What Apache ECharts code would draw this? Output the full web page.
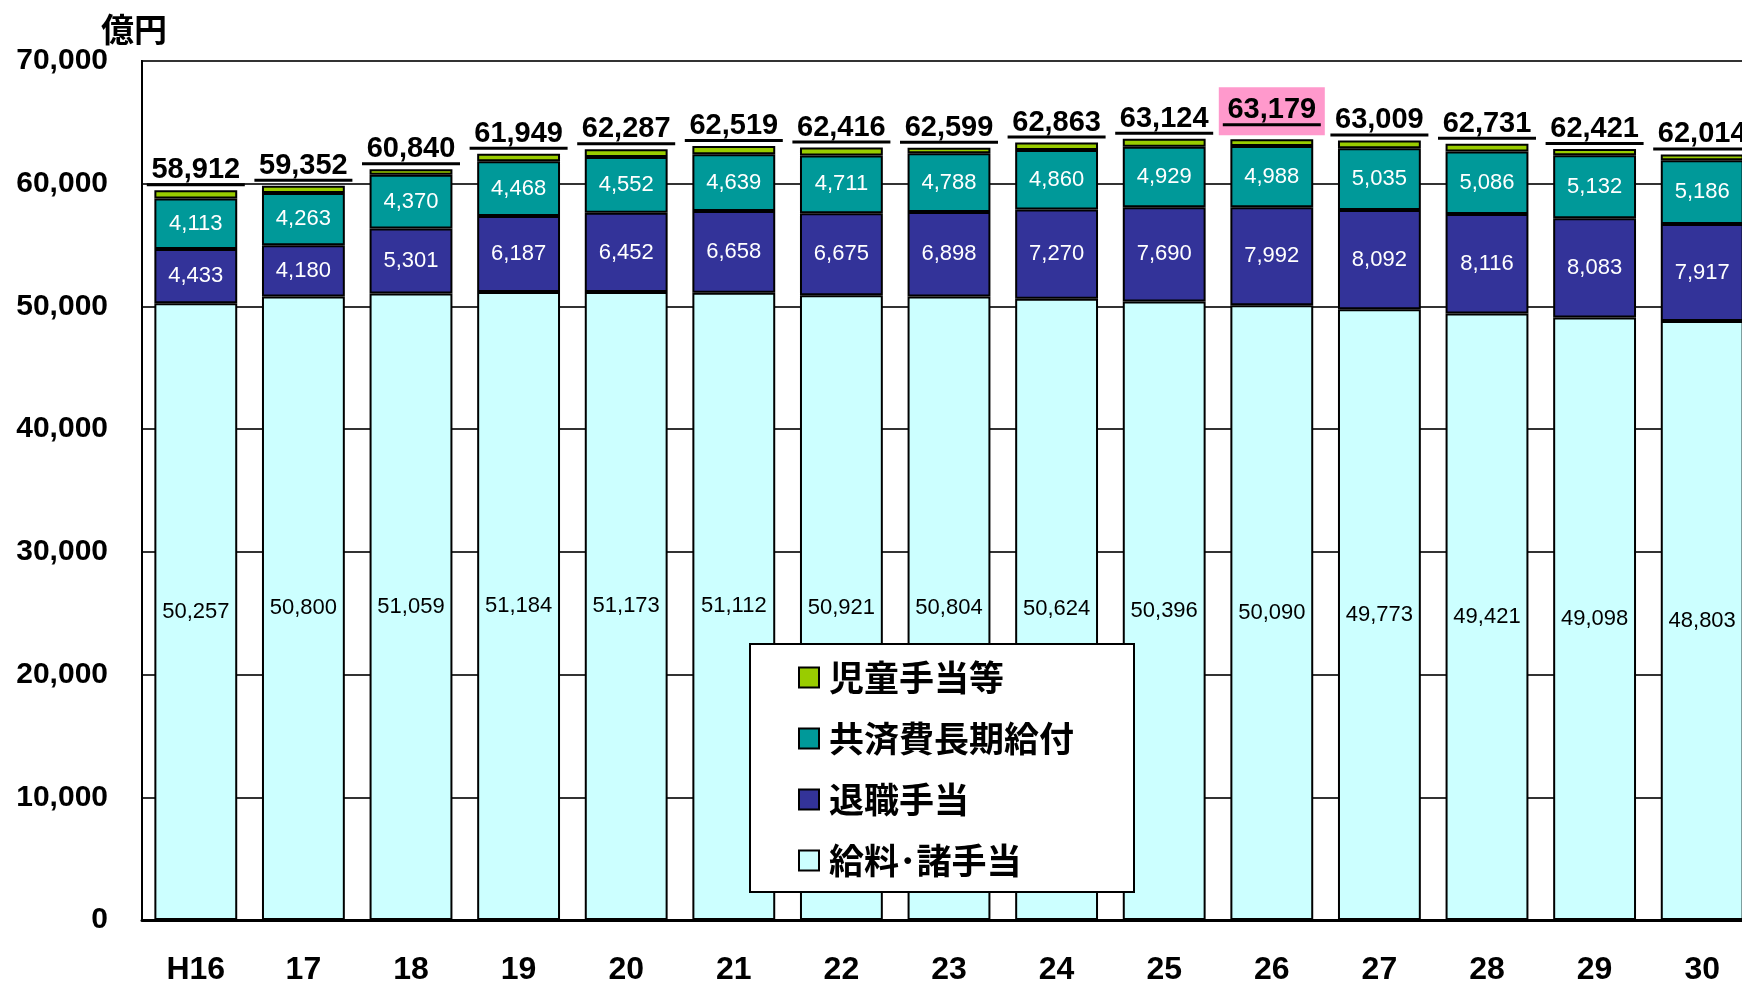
<!DOCTYPE html>
<html>
<head>
    <meta charset="UTF-8">
    <title>人件費の推移</title>
    <script src="https://cdn.jsdelivr.net/npm/echarts@6/dist/echarts.min.js"></script>
    <style>
        html, body {margin: 0; padding: 0; background: #fff; overflow: hidden;}
        #main {width: 1800px; height: 984px;}
    </style>
</head>
<body>
<div id="main"></div>
<script>
    // 年度
    var years = ['H16', '17', '18', '19', '20', '21', '22', '23', '24', '25', '26', '27', '28', '29', '30'];
    // 給料・諸手当
    var salary = [50257, 50800, 51059, 51184, 51173, 51112, 50921, 50804, 50624, 50396, 50090, 49773, 49421, 49098, 48803];
    // 退職手当
    var retire = [4433, 4180, 5301, 6187, 6452, 6658, 6675, 6898, 7270, 7690, 7992, 8092, 8116, 8083, 7917];
    // 共済費長期給付
    var mutual = [4113, 4263, 4370, 4468, 4552, 4639, 4711, 4788, 4860, 4929, 4988, 5035, 5086, 5132, 5186];
    // 児童手当等 (ラベルなし、棒の高さから読み取り)
    var child = [660, 600, 450, 600, 640, 660, 640, 450, 600, 640, 560, 630, 630, 520, 480];
    // 合計 (上のラベル)
    var totals = [58912, 59352, 60840, 61949, 62287, 62519, 62416, 62599, 62863, 63124, 63179, 63009, 62731, 62421, 62014];
    var peakIndex = 10; // ピンクで強調

    var latin = '"Liberation Sans", Arial, sans-serif';
    var cjk = '"Noto Sans CJK JP", sans-serif';

    function comma(v) {
        return String(v).replace(/\B(?=(\d{3})+(?!\d))/g, ',');
    }

    var myChart = echarts.init(document.getElementById('main'));

    var border = {borderColor: '#000', borderWidth: 2};

    function innerLabel(color) {
        return {
            show: true,
            position: 'inside',
            color: color,
            fontFamily: latin,
            fontSize: 22,
            formatter: function (p) { return comma(p.value); }
        };
    }

    var childData = child.map(function (v, i) {
        if (i === peakIndex) {
            return {value: v, label: {backgroundColor: '#ff99cc', padding: [10, 4, 9, 4]}};
        }
        return v;
    });

    var option = {
        backgroundColor: '#fff',
        animation: false,
        grid: {
            left: 142,
            right: 44,
            top: 61,
            bottom: 64,
            outerBoundsMode: 'none',
            show: true,
            borderColor: '#000',
            borderWidth: 2
        },
        legend: {
            orient: 'vertical',
            left: 750,
            top: 644,
            data: ['児童手当等', '共済費長期給付', '退職手当', '給料･諸手当'],
            backgroundColor: '#fff',
            borderColor: '#000',
            borderWidth: 2,
            padding: [16, 60, 14, 48],
            itemGap: 26,
            itemWidth: 20,
            itemHeight: 20,
            icon: 'rect',
            itemStyle: {borderColor: '#000', borderWidth: 2},
            textStyle: {
                fontFamily: cjk,
                fontSize: 35,
                fontWeight: 'bold',
                color: '#000',
                lineHeight: 34,
                padding: [0, 0, 0, 5]
            }
        },
        xAxis: {
            type: 'category',
            data: years,
            axisLine: {lineStyle: {color: '#000', width: 3}},
            axisTick: {show: false},
            axisLabel: {
                color: '#000',
                fontFamily: latin,
                fontSize: 32,
                fontWeight: 'bold',
                margin: 34
            }
        },
        yAxis: {
            type: 'value',
            min: 0,
            max: 70000,
            interval: 10000,
            name: '億円',
            nameLocation: 'end',
            nameGap: 12,
            nameTextStyle: {
                fontFamily: cjk,
                fontSize: 33,
                fontWeight: 'bold',
                color: '#000',
                align: 'center',
                padding: [0, 16, 0, 0]
            },
            axisLine: {show: true, lineStyle: {color: '#000', width: 2}},
            axisTick: {show: false},
            axisLabel: {
                color: '#000',
                fontFamily: latin,
                fontSize: 30,
                fontWeight: 'bold',
                margin: 34,
                formatter: function (v) { return comma(v); }
            },
            splitLine: {lineStyle: {color: '#333', width: 2}}
        },
        series: [
            {
                name: '給料･諸手当',
                type: 'bar',
                stack: 'total',
                barWidth: '77%',
                data: salary,
                itemStyle: Object.assign({color: '#ccffff'}, border),
                label: innerLabel('#000')
            },
            {
                name: '退職手当',
                type: 'bar',
                stack: 'total',
                data: retire,
                itemStyle: Object.assign({color: '#333399'}, border),
                label: innerLabel('#fff')
            },
            {
                name: '共済費長期給付',
                type: 'bar',
                stack: 'total',
                data: mutual,
                itemStyle: Object.assign({color: '#009999'}, border),
                label: innerLabel('#fff')
            },
            {
                name: '児童手当等',
                type: 'bar',
                stack: 'total',
                data: childData,
                itemStyle: Object.assign({color: '#99cc00'}, border),
                label: {
                    show: true,
                    position: 'top',
                    distance: 4,
                    formatter: function (p) {
                        return '{t|' + comma(totals[p.dataIndex]) + '}\n{u|}';
                    },
                    rich: {
                        t: {
                            fontFamily: latin,
                            fontSize: 29,
                            fontWeight: 'bold',
                            color: '#000',
                            lineHeight: 26,
                            align: 'center'
                        },
                        u: {
                            width: 98,
                            height: 3,
                            lineHeight: 3,
                            backgroundColor: '#000',
                            align: 'center'
                        }
                    }
                }
            }
        ]
    };

    myChart.setOption(option);
</script>
</body>
</html>
